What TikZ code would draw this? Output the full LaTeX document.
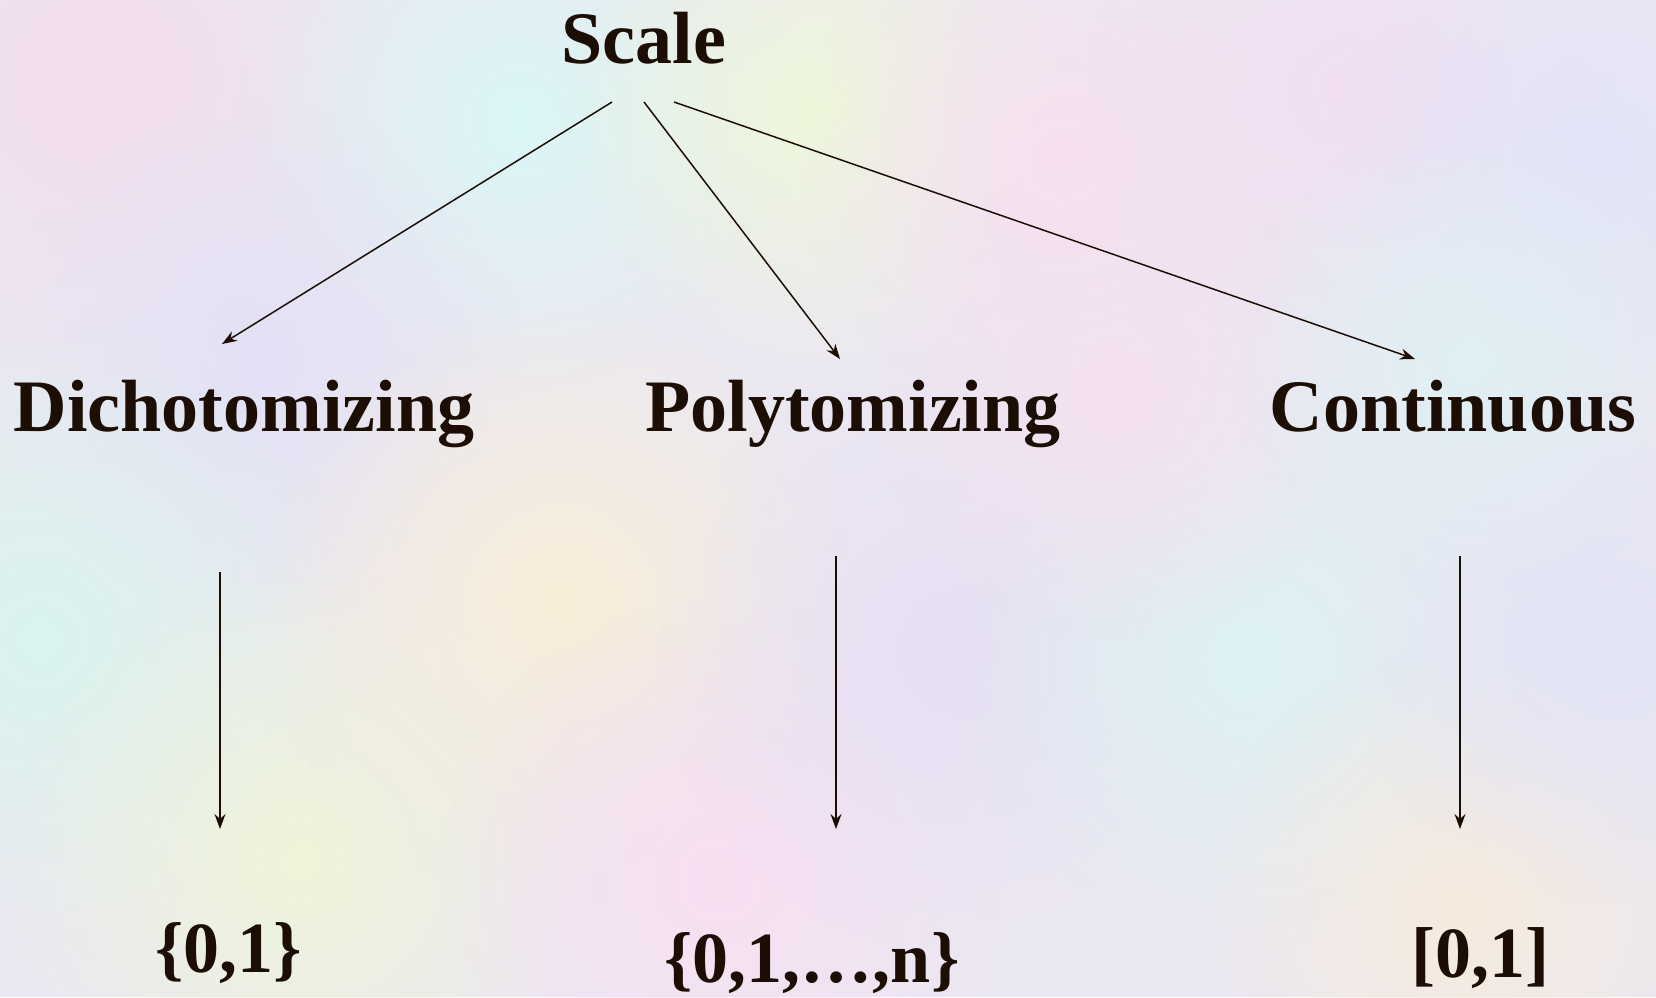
\documentclass[tikz,border=0pt]{standalone}
\usepackage{fontspec}
\setmainfont{Liberation Serif}
\usepackage{tikz}
\usetikzlibrary{positioning,arrows.meta,fadings}
\definecolor{ink}{HTML}{1C0E05}
\definecolor{bgbase}{HTML}{ECE8F2}
\tikzfading[name=blobfade,inner color=transparent!0,outer color=transparent!100]
\tikzset{main node/.style={inner sep=0pt,anchor=base,text=ink,font=\bfseries\fontsize{74}{80}\selectfont},
  set node/.style={main node,font=\bfseries\fontsize{72}{78}\selectfont},
  link/.style={draw=ink,line width=1.5pt,-{Stealth[length=15pt,width=11pt]}},}

\begin{document}
\begin{tikzpicture}[x=1pt,y=-1pt]
      \useasboundingbox (0,0) rectangle (1656,997);
      % pastel background
      \fill[bgbase] (0,0) rectangle (1656,997);
      \foreach \bx/\by/\br/\bc in {100/80/320/F3DDEE, 520/120/280/DAF6F6, 820/110/260/EEF8DA,
          1060/160/260/F7E0F0, 1350/90/260/F2DEF2, 1590/160/260/E2E4F8, 260/360/260/E3E1F6,
          40/640/320/D9F4EF, 300/860/300/EEF5D9, 560/600/300/F8EED8, 720/880/280/F8DFF2,
          960/650/300/E7DFF4, 1250/660/300/DCF2F2, 1460/910/260/F6EBDD, 1610/640/260/E2E4F6,
          1120/400/240/F5E1F0, 1470/360/240/DFF0F4} {
        \definecolor{blobcol}{HTML}{\bc}
        \fill[blobcol,path fading=blobfade] (\bx,\by) circle (\br pt);
      }

      \node[main node] (scale) at (644,63) {Scale};
      \node[main node] (dicho) at (244,431) {Dichotomizing};
      \node[main node] (poly) at (853,431) {Polytomizing};
      \node[main node] (cont) at (1453,431) {Continuous};

      \node[set node] (bin) at (229,972) {\{0,1\}};
      \node[set node] (multi) at (812,982) {\{0,1,\dots,n\}};
      \node[set node] (unit) at (1480,977) {[0,1]};

      \path
        ([xshift=-32pt,yshift=-39pt]scale.base) edge[link] ([xshift=-22pt,yshift=87pt]dicho.base)
        ([yshift=-39pt]scale.base) edge[link] ([xshift=-13pt,yshift=72pt]poly.base)
        ([xshift=30pt,yshift=-39pt]scale.base) edge[link] ([xshift=-38pt,yshift=72pt]cont.base)
        ([xshift=-24pt,yshift=-141pt]dicho.base) edge[link] ([xshift=-9pt,yshift=143pt]bin.base)
        ([xshift=-17pt,yshift=-125pt]poly.base) edge[link] ([xshift=24pt,yshift=153pt]multi.base)
        ([xshift=7pt,yshift=-125pt]cont.base) edge[link] ([xshift=-20pt,yshift=148pt]unit.base);

    \end{tikzpicture}
\end{document}
